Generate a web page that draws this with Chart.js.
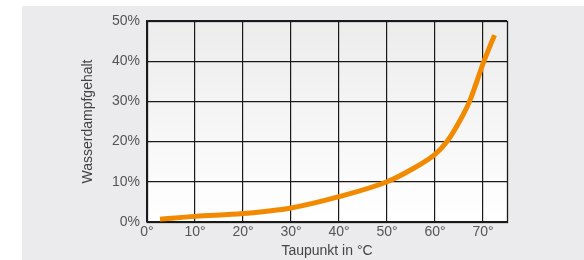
<!DOCTYPE html>
<html>
<head>
<meta charset="utf-8">
<script src="https://cdn.jsdelivr.net/npm/chart.js@4/dist/chart.umd.min.js"></script>
<style>
  html, body { margin: 0; padding: 0; background: #ffffff; }
  #bg { position: absolute; left: 22px; top: 6px; width: 562px; height: 254px; background: #ebebed; }
  #wrap { position: absolute; left: 0; top: 0; width: 584px; height: 260px; }
</style>
</head>
<body>
<div id="bg"></div>
<div id="wrap"><canvas id="c" width="584" height="260"></canvas></div>
<script>
// Data
const taupunkt = [2.7, 10, 20, 30, 40, 50, 55, 60, 62.5, 65, 67.2, 70.2, 72.4];      // °C
const wasserdampf = [0.7, 1.4, 2.1, 3.5, 6.3, 10.0, 13.0, 16.8, 20.0, 24.8, 30.0, 40.0, 46.5]; // %
const xTickValues = [0, 10, 20, 30, 40, 50, 60, 70];
const yTickValues = [0, 10, 20, 30, 40, 50];
const xTitle = 'Taupunkt in °C';
const yTitle = 'Wasserdampfgehalt';

const points = taupunkt.map((t, i) => ({ x: t, y: wasserdampf[i] }));

const plotBg = {
  id: 'plotBg',
  beforeDraw(chart) {
    const { ctx, chartArea: a } = chart;
    const g = ctx.createLinearGradient(0, a.top, 0, a.bottom);
    g.addColorStop(0, '#ececec');
    g.addColorStop(1, '#ffffff');
    ctx.save();
    ctx.fillStyle = g;
    ctx.fillRect(a.left, a.top, a.right - a.left, a.bottom - a.top);
    ctx.restore();
  },
  afterDraw(chart) {
    const { ctx, chartArea: a } = chart;
    ctx.save();
    ctx.strokeStyle = '#1a1a1a';
    ctx.lineWidth = 1.3;
    ctx.strokeRect(Math.round(a.left) + 0.5, Math.round(a.top) + 0.5, Math.round(a.right - a.left), Math.round(a.bottom - a.top));
    ctx.restore();
  }
};

const tickFont = { family: '"Liberation Sans", Arial, Helvetica, sans-serif', size: 14 };
const tickColor = '#555555';

new Chart(document.getElementById('c'), {
  type: 'line',
  data: {
    datasets: [{
      data: points,
      borderColor: '#f18a00',
      borderWidth: 5,
      pointRadius: 0,
      borderCapStyle: 'butt',
      cubicInterpolationMode: 'monotone',
      fill: false
    }]
  },
  options: {
    responsive: false,
    animation: false,
    devicePixelRatio: 1,
    layout: { padding: { left: 76, top: 21, right: 77, bottom: 0 } },
    plugins: { legend: { display: false }, tooltip: { enabled: false } },
    scales: {
      x: {
        type: 'linear',
        min: 0, max: 75,
        afterFit(s) { s.height = 38; },
        afterBuildTicks(s) { s.ticks = xTickValues.map(v => ({ value: v })); },
        ticks: { includeBounds: false, padding: 2, color: tickColor, font: tickFont, maxRotation: 0,
                 callback: v => v + '°' },
        grid: { color: '#1a1a1a', lineWidth: 1.2, drawTicks: false },
        border: { color: '#1a1a1a', width: 1.3 },
        title: { display: true, text: xTitle, color: '#444444', font: tickFont, padding: { top: 0, bottom: 0 } }
      },
      y: {
        min: 0, max: 50,
        afterFit(s) { s.width = 71; },
        afterBuildTicks(s) { s.ticks = yTickValues.map(v => ({ value: v })); },
        ticks: { padding: 7, color: tickColor, font: tickFont, callback: v => v + '%' },
        grid: { color: '#1a1a1a', lineWidth: 1.2, drawTicks: false },
        border: { color: '#1a1a1a', width: 1.3 },
        title: { display: true, text: yTitle, color: '#444444', font: tickFont, padding: { top: 4, bottom: 4 } }
      }
    }
  },
  plugins: [plotBg]
});
</script>
</body>
</html>
